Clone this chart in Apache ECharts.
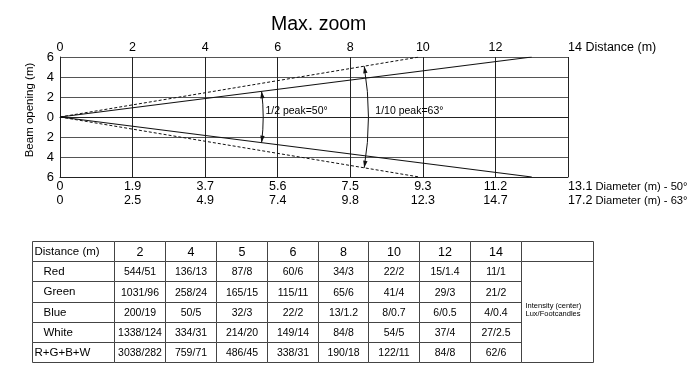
<!DOCTYPE html>
<html><head><meta charset="utf-8">
<script src="https://cdn.jsdelivr.net/npm/echarts@6/dist/echarts.min.js"></script>
<style>html,body{margin:0;padding:0;background:#fff}#c{width:700px;height:380px}</style>
</head><body><div id="c"></div>
<script>
// ---- chart data ----
const distTicks = [0, 2, 4, 6, 8, 10, 12, 14];
const distAxisName = 'Distance (m)';
const diam50 = ['0', '1.9', '3.7', '5.6', '7.5', '9.3', '11.2', '13.1'];
const diam63 = ['0', '2.5', '4.9', '7.4', '9.8', '12.3', '14.7', '17.2'];
const diam50Name = 'Diameter (m) - 50°';
const diam63Name = 'Diameter (m) - 63°';
const beam50Dist = [0, 13.0];
const beam50Upper = [0, 6];
const beam50Lower = [0, -6];
const beam63Dist = [0, 9.9];
const beam63Upper = [0, 6];
const beam63Lower = [0, -6];
const annotArcDist = [5.6, 8.5];
const annotTexts = ['1/2 peak=50°', '1/10 peak=63°'];
const annotTextPos = [[5.66, 0.6], [8.69, 0.6]];

// ---- table data ----
const tableHeader = 'Distance (m)';
const tableDistances = ['2', '4', '5', '6', '8', '10', '12', '14'];
const rowNames = ['Red', 'Green', 'Blue', 'White', 'R+G+B+W'];
const red = ['544/51', '136/13', '87/8', '60/6', '34/3', '22/2', '15/1.4', '11/1'];
const green = ['1031/96', '258/24', '165/15', '115/11', '65/6', '41/4', '29/3', '21/2'];
const blue = ['200/19', '50/5', '32/3', '22/2', '13/1.2', '8/0.7', '6/0.5', '4/0.4'];
const white = ['1338/124', '334/31', '214/20', '149/14', '84/8', '54/5', '37/4', '27/2.5'];
const rgbw = ['3038/282', '759/71', '486/45', '338/31', '190/18', '122/11', '84/8', '62/6'];
const noteText = 'Intensity (center)\nLux/Footcandles';

const FONT = 'Liberation Sans, Arial, sans-serif';
const INK = '#000';
const pair = (xs, ys) => xs.map((x, i) => [x, ys[i]]);

const tableRows = [tableHeader].concat(rowNames);
const rowValues = [red, green, blue, white, rgbw];
const valueCells = [], valueTexts = [];
tableDistances.forEach((d, ci) => { valueCells.push([ci, 0]); valueTexts.push(d); });
rowValues.forEach((arr, ri) => arr.forEach((v, ci) => { valueCells.push([ci, ri + 1]); valueTexts.push(v); }));
const labelCells = tableRows.map((r, i) => [0, i]);
const noteCells = [[0, 0, 0], [0, 1, rowNames.length]];

const BORDER = '#444';
function cellRect(api, ci, r0, r1) {
  const a = api.coord([ci, r0]), b = api.coord([ci, r1]);
  const s = api.size([1, 1]);
  const x0 = Math.round(a[0] - s[0] / 2) + 0.5, x1 = Math.round(a[0] + s[0] / 2) + 0.5;
  const y0 = Math.round(a[1] - s[1] / 2) + 0.5, y1 = Math.round(b[1] + s[1] / 2) + 0.5;
  return { x: x0, y: y0, width: x1 - x0, height: y1 - y0 };
}
function txt(text, x, y, size, align) {
  return { type: 'text', style: { text, x, y, fill: INK, fontSize: size, fontFamily: FONT,
    align: align, textAlign: align, verticalAlign: 'middle', textVerticalAlign: 'middle' } };
}

const tableYAxis = (gi) => ({ type: 'category', gridIndex: gi, data: tableRows, inverse: true, show: false });

const option = {
  animation: false,
  backgroundColor: '#fff',
  title: { text: 'Max. zoom', left: 266, top: 10,
    textStyle: { fontSize: 19.5, fontWeight: 'normal', color: INK, fontFamily: FONT } },
  grid: [
    { left: 60, top: 57, width: 508, height: 120 },
    { left: 32, top: 241, width: 82, height: 121 },
    { left: 114, top: 241, width: 407, height: 121 },
    { left: 521, top: 241, width: 72, height: 121 }
  ],
  xAxis: [
    { type: 'value', gridIndex: 0, position: 'top', min: 0, max: 14, interval: 2,
      axisLine: { show: true, lineStyle: { color: '#222', width: 1 } }, axisTick: { show: false },
      splitLine: { show: true, lineStyle: { color: '#222', width: 1 } },
      axisLabel: { color: INK, fontSize: 12.5, fontFamily: FONT, margin: 3, alignMaxLabel: 'left',
        formatter: (v) => { const i = distTicks.indexOf(v); return i === distTicks.length - 1 ? v + ' ' + distAxisName : String(v); } } },
    { type: 'value', gridIndex: 0, position: 'bottom', min: 0, max: 14, interval: 2,
      axisLine: { show: true, onZero: false, lineStyle: { color: '#222', width: 1 } }, axisTick: { show: false },
      splitLine: { show: false },
      axisLabel: { color: INK, fontSize: 12.5, fontFamily: FONT, margin: 3, lineHeight: 14, alignMaxLabel: 'left',
        rich: { w: { fontSize: 11.2, fontFamily: FONT, color: INK, lineHeight: 14 } },
        formatter: (v) => { const i = distTicks.indexOf(v); if (i < 0) return '';
          if (i === distTicks.length - 1) return diam50[i] + '{w| ' + diam50Name + '}\n' + diam63[i] + '{w| ' + diam63Name + '}';
          return diam50[i] + '\n' + diam63[i]; } } },
    { type: 'category', gridIndex: 1, data: ['label'], show: false },
    { type: 'category', gridIndex: 2, data: tableDistances, show: false },
    { type: 'category', gridIndex: 3, data: ['note'], show: false }
  ],
  yAxis: [
    { type: 'value', gridIndex: 0, min: -6, max: 6, interval: 2,
      name: 'Beam opening (m)', nameLocation: 'middle', nameGap: 24,
      nameTextStyle: { color: INK, fontSize: 11.5, fontFamily: FONT, padding: [0, 0, 0, 14] },
      axisLine: { show: true, onZero: false, lineStyle: { color: '#222', width: 1 } }, axisTick: { show: false },
      splitLine: { show: true, lineStyle: { color: '#555', width: 1 } },
      axisLabel: { color: INK, fontSize: 13, fontFamily: FONT, margin: 6, formatter: (v) => String(Math.abs(v)) } },
    tableYAxis(1), tableYAxis(2), tableYAxis(3)
  ],
  series: [
    { type: 'line', xAxisIndex: 0, yAxisIndex: 0, data: pair(beam50Dist, beam50Upper), showSymbol: false, silent: true,
      lineStyle: { color: '#111', width: 1.2 } },
    { type: 'line', xAxisIndex: 0, yAxisIndex: 0, data: pair(beam50Dist, beam50Lower), showSymbol: false, silent: true,
      lineStyle: { color: '#111', width: 1.2 } },
    { type: 'line', xAxisIndex: 0, yAxisIndex: 0, data: pair(beam63Dist, beam63Upper), showSymbol: false, silent: true,
      lineStyle: { color: '#111', width: 1, type: [3, 2] } },
    { type: 'line', xAxisIndex: 0, yAxisIndex: 0, data: pair(beam63Dist, beam63Lower), showSymbol: false, silent: true,
      lineStyle: { color: '#111', width: 1, type: [3, 2] } },
    { type: 'custom', xAxisIndex: 2, yAxisIndex: 1, data: labelCells, silent: true, encode: { x: 0, y: 1 },
      renderItem: (params, api) => {
        const ri = api.value(1);
        const r = cellRect(api, 0, ri, ri);
        const indent = (ri >= 1 && ri <= 4) ? 11 : 2;
        return { type: 'group', children: [
          { type: 'rect', shape: r, style: { fill: '#fff', stroke: BORDER, lineWidth: 1 } },
          txt(tableRows[ri], r.x + indent, r.y + r.height / 2, 11.5, 'left') ] };
      } },
    { type: 'custom', xAxisIndex: 3, yAxisIndex: 2, data: valueCells, silent: true, encode: { x: 0, y: 1 },
      renderItem: (params, api) => {
        const ci = api.value(0), ri = api.value(1);
        const r = cellRect(api, ci, ri, ri);
        return { type: 'group', children: [
          { type: 'rect', shape: r, style: { fill: '#fff', stroke: BORDER, lineWidth: 1 } },
          txt(valueTexts[params.dataIndex], r.x + r.width / 2, r.y + r.height / 2 + 1, ri === 0 ? 12.5 : 10.5, 'center') ] };
      } },
    { type: 'custom', xAxisIndex: 4, yAxisIndex: 3, data: noteCells, silent: true, encode: { x: 0, y: 1 },
      renderItem: (params, api) => {
        const r0 = api.value(1), r1 = api.value(2);
        const r = cellRect(api, 0, r0, r1);
        const children = [{ type: 'rect', shape: r, style: { fill: '#fff', stroke: BORDER, lineWidth: 1 } }];
        if (r1 > r0) children.push(txt(noteText, r.x + 4, r.y + r.height / 2 - 2, 7.5, 'left'));
        return { type: 'group', children };
      } }
  ]
};

const chart = echarts.init(document.getElementById('c'));
chart.setOption(option);

function annotate() {
  const f = { gridIndex: 0 };
  const o = chart.convertToPixel(f, [0, 0]);
  const beams = [[beam50Dist[1], beam50Upper[1], beam50Lower[1]], [beam63Dist[1], beam63Upper[1], beam63Lower[1]]];
  const els = [];
  annotArcDist.forEach((d, k) => {
    const r = chart.convertToPixel(f, [d, 0])[0] - o[0];
    const pu = chart.convertToPixel(f, [beams[k][0], beams[k][1]]);
    const pl = chart.convertToPixel(f, [beams[k][0], beams[k][2]]);
    const a1 = Math.atan2(pu[1] - o[1], pu[0] - o[0]);
    const a2 = Math.atan2(pl[1] - o[1], pl[0] - o[0]);
    els.push({ type: 'arc', silent: true, shape: { cx: o[0], cy: o[1], r, startAngle: a1, endAngle: a2, clockwise: true },
      style: { stroke: '#111', fill: null, lineWidth: 1 } });
    [[a1, -1], [a2, 1]].forEach(([ang, dir]) => {
      const tip = [o[0] + r * Math.cos(ang), o[1] + r * Math.sin(ang)];
      const t = dir < 0 ? [Math.sin(ang), -Math.cos(ang)] : [-Math.sin(ang), Math.cos(ang)];
      const L = 7, W = 2.2;
      const base = [tip[0] - t[0] * L, tip[1] - t[1] * L];
      const n = [-t[1], t[0]];
      els.push({ type: 'polygon', silent: true, shape: { points: [tip, [base[0] + n[0] * W, base[1] + n[1] * W], [base[0] - n[0] * W, base[1] - n[1] * W]] },
        style: { fill: '#111' } });
    });
  });
  annotTexts.forEach((t, k) => {
    const p = chart.convertToPixel(f, annotTextPos[k]);
    els.push({ type: 'text', silent: true, x: p[0], y: p[1],
      style: { text: t, fill: INK, font: '10.5px ' + FONT, align: 'left', textAlign: 'left', verticalAlign: 'middle', textVerticalAlign: 'middle' } });
  });
  chart.setOption({ graphic: els });
}
annotate();
</script>
</body></html>
